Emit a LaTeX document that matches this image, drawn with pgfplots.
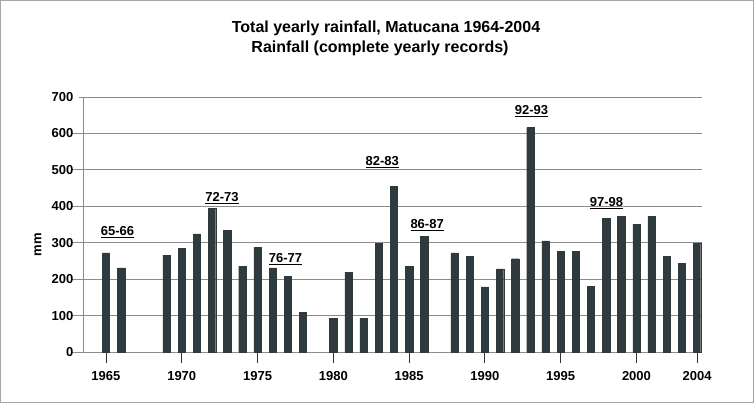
\documentclass[border=0pt]{standalone}
\usepackage{fontspec}
\setmainfont{Liberation Sans}
\usepackage{pgfplots}
\pgfplotsset{compat=1.18}
\definecolor{barcol}{HTML}{2E3A3D}
\definecolor{gridcol}{RGB}{140,140,140}
\begin{document}
\begin{tikzpicture}
\draw[gray!70, line width=0.8pt] (0.5pt,0.5pt) rectangle (753.5pt,402.5pt);
\node[anchor=base, font=\fontsize{16}{18}\selectfont\bfseries] at (386pt,370pt) {Total yearly rainfall, Matucana 1964-2004};
\node[anchor=base, font=\fontsize{16}{18}\selectfont\bfseries] at (380pt,350pt) {Rainfall (complete yearly records)};
\begin{axis}[
  at={(83pt,51pt)}, anchor=south west,
  scale only axis, width=619pt, height=255pt,
  xmin=1963.48, xmax=2004.33, ymin=0, ymax=700,
  axis lines*=left,
  axis line style={gridcol, line width=0.8pt},
  xtick={1965,1970,1975,1980,1985,1990,1995,2000,2004},
  ytick={0,100,...,700},
  ymajorgrids, grid style={gridcol, line width=0.8pt},
  tick align=outside,
  major tick length=11pt,
  x tick style={black!80, line width=0.8pt},
  y tick style={gridcol, line width=0.8pt, shorten <=7pt},
  /pgf/number format/assume math mode=true,
  /pgf/number format/1000 sep={},
  ticklabel style={font=\fontsize{13}{15}\selectfont\bfseries},
  xticklabel style={yshift=-5pt},
  yticklabel style={xshift=5pt},
  ylabel={mm},
  ylabel style={at={(axis description cs:-0.0727,0.42)}, anchor=center, font=\fontsize{13}{15}\selectfont\bfseries},
  clip=false,
]
\addplot[ybar, bar width=7.3pt, fill=barcol, draw=barcol] coordinates {
(1965,272) (1966,231) (1969,266) (1970,284) (1971,324) (1972,395) (1973,333)
(1974,235) (1975,287) (1976,231) (1977,207) (1978,108) (1980,93) (1981,219)
(1982,93) (1983,299) (1984,454) (1985,235) (1986,318) (1988,272) (1989,263)
(1990,179) (1991,228) (1992,256) (1993,616) (1994,305) (1995,277) (1996,277)
(1997,181) (1998,366) (1999,372) (2000,351) (2001,372) (2002,262) (2003,243)
(2004,298)
};
\begin{scope}[every node/.style={anchor=base, font=\fontsize{13}{15}\selectfont\bfseries}]
\node at (axis cs:1965.76,319) {\underline{65-66}};
\node at (axis cs:1972.66,413) {\underline{72-73}};
\node at (axis cs:1976.85,245) {\underline{76-77}};
\node at (axis cs:1983.23,511) {\underline{82-83}};
\node at (axis cs:1986.19,338) {\underline{86-87}};
\node at (axis cs:1993.07,651) {\underline{92-93}};
\node at (axis cs:1998.02,399) {\underline{97-98}};
\end{scope}
\end{axis}
\end{tikzpicture}
\end{document}
